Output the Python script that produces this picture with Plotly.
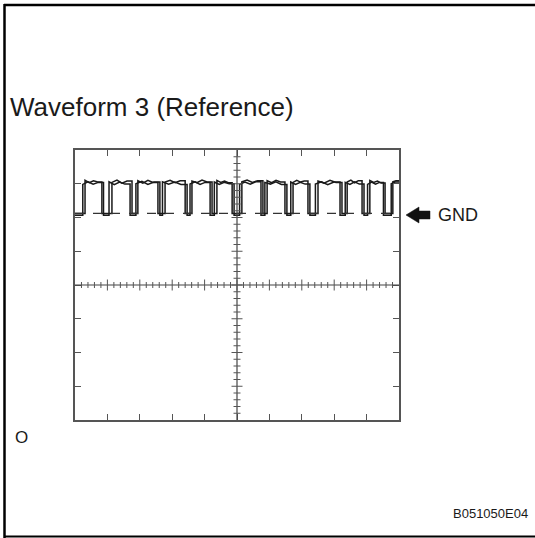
import plotly.graph_objects as go

W, H = 535, 538

# Screen grid: 10 x 8 divisions
x_divs = 10
y_divs = 8

# Pulse edges (divisions from the left edge of the screen), two overlaid sweeps
rise_a = [0.31, 1.14, 1.94, 2.78, 3.61, 4.38, 5.15, 5.93, 6.73, 7.50, 8.40, 9.10, 9.81]
fall_a = [0.83, 1.76, 2.56, 3.40, 4.23, 4.85, 5.80, 6.48, 7.19, 8.24, 8.86, 9.57, 10.0]
rise_b = [0.24, 1.05, 1.88, 2.70, 3.55, 4.30, 5.08, 5.86, 6.66, 7.42, 8.34, 9.03, 9.76]
fall_b = [0.88, 1.70, 2.62, 3.46, 4.17, 4.91, 5.74, 6.54, 7.25, 8.18, 8.92, 9.52, 10.0]

# Level readings on each high plateau (divisions from the bottom)
high_a = [
    [7.10, 7.03, 7.09, 7.05],
    [7.04, 7.11, 7.02, 7.08],
    [7.09, 7.02, 7.10, 7.04],
    [7.05, 7.10, 7.03, 7.09],
    [7.08, 7.03, 7.11, 7.05],
    [7.10, 7.04, 7.08, 7.03],
    [7.06, 7.11, 7.04, 7.09],
    [7.09, 7.03, 7.10, 7.05],
    [7.04, 7.10, 7.05, 7.08],
    [7.08, 7.02, 7.10, 7.04],
    [7.05, 7.11, 7.03, 7.09],
    [7.10, 7.04, 7.08, 7.02],
    [7.06, 7.09],
]
high_b = [
    [6.98, 7.06, 6.99, 7.04],
    [7.06, 6.97, 7.05, 6.99],
    [7.00, 7.07, 6.98, 7.05],
    [7.06, 6.99, 7.05, 6.98],
    [6.99, 7.06, 6.98, 7.04],
    [7.05, 6.98, 7.04, 7.00],
    [6.98, 7.05, 6.99, 7.06],
    [7.04, 6.99, 7.06, 6.98],
    [7.05, 6.98, 7.04, 6.99],
    [6.99, 7.06, 6.97, 7.05],
    [7.04, 6.98, 7.06, 6.99],
    [6.98, 7.05, 6.99, 7.04],
    [7.00, 7.05],
]
low_a = 6.12
low_b = 6.07
gnd_lvl = 6.12


def sweep(rise, fall, highs, low):
    """Polyline of one sweep built from its edges and plateau readings."""
    t, v = [0.0], [low]
    for r, f, lv in zip(rise, fall, highs):
        t += [r, r]
        v += [low, lv[0]]
        n = len(lv)
        for k in range(1, n):
            t.append(r + (f - r) * k / n)
            v.append(lv[k])
        t.append(f)
        v.append(lv[-1])
        if f < x_divs:
            t.append(f)
            v.append(low)
    return t, v


# Pixel geometry of the screen
X0, X1, Y0, Y1 = 75, 399, 150, 420
px_x = (X1 - X0) / x_divs
px_y = (Y1 - Y0) / y_divs


def px(xp):
    return xp / W


def py(yp):
    return 1 - yp / H


fig = go.Figure()

for rise, fall, highs, low in ((rise_b, fall_b, high_b, low_b), (rise_a, fall_a, high_a, low_a)):
    t, v = sweep(rise, fall, highs, low)
    fig.add_trace(go.Scatter(
        x=t, y=v, mode="lines",
        line=dict(color="#1a1a1a", width=1.5),
        hoverinfo="skip", showlegend=False,
    ))

shapes = []
# GND reference (dashed)
shapes.append(dict(type="line", xref="x", yref="y", x0=0, x1=x_divs, y0=gnd_lvl, y1=gnd_lvl,
                   line=dict(color="#333333", width=1.2, dash="dash")))
# Centre cross
cx, cy = x_divs / 2, y_divs / 2
shapes.append(dict(type="line", xref="x", yref="y", x0=0, x1=x_divs, y0=cy, y1=cy,
                   line=dict(color="#444444", width=1.2)))
shapes.append(dict(type="line", xref="x", yref="y", x0=cx, x1=cx, y0=0, y1=y_divs,
                   line=dict(color="#444444", width=1.2)))
# Sub-division ticks on the centre cross
for i in range(1, x_divs * 5):
    xv = i * 0.2
    half = (5.5 if i % 5 == 0 else 3.0) / px_y
    shapes.append(dict(type="line", xref="x", yref="y", x0=xv, x1=xv, y0=cy - half, y1=cy + half,
                       line=dict(color="#555555", width=1)))
for i in range(1, y_divs * 5):
    yv = i * 0.2
    half = (5.5 if i % 5 == 0 else 3.5) / px_x
    shapes.append(dict(type="line", xref="x", yref="y", x0=cx - half, x1=cx + half, y0=yv, y1=yv,
                       line=dict(color="#555555", width=1)))

# Outer frame of the sheet
frame = "#000000"
shapes.append(dict(type="line", xref="paper", yref="paper", x0=px(4), x1=px(535), y0=py(5), y1=py(5),
                   line=dict(color=frame, width=2.5)))
shapes.append(dict(type="line", xref="paper", yref="paper", x0=px(4.5), x1=px(4.5), y0=py(4), y1=py(538),
                   line=dict(color=frame, width=2.5)))
shapes.append(dict(type="line", xref="paper", yref="paper", x0=px(4), x1=px(535), y0=py(536.5), y1=py(536.5),
                   line=dict(color=frame, width=2)))

# GND arrow
ay = 215
arrow_path = (f"M {px(406)},{py(ay)} L {px(419)},{py(ay - 8)} L {px(419)},{py(ay - 4)} "
              f"L {px(430)},{py(ay - 4)} L {px(430)},{py(ay + 4)} L {px(419)},{py(ay + 4)} "
              f"L {px(419)},{py(ay + 8)} Z")
shapes.append(dict(type="path", xref="paper", yref="paper", path=arrow_path,
                   fillcolor="#111111", line=dict(color="#111111", width=0.5)))

font = "Liberation Sans, Arial, sans-serif"
annotations = [
    dict(text="Waveform 3 (Reference)", x=px(8), y=py(107), xref="paper", yref="paper",
         xanchor="left", yanchor="middle", showarrow=False,
         font=dict(family=font, size=26, color="#1a1a1a")),
    dict(text="GND", x=px(436), y=py(215), xref="paper", yref="paper",
         xanchor="left", yanchor="middle", showarrow=False,
         font=dict(family=font, size=18, color="#1a1a1a")),
    dict(text="O", x=px(13), y=py(437), xref="paper", yref="paper",
         xanchor="left", yanchor="middle", showarrow=False,
         font=dict(family=font, size=17, color="#1a1a1a")),
    dict(text="B051050E04", x=px(530), y=py(513), xref="paper", yref="paper",
         xanchor="right", yanchor="middle", showarrow=False,
         font=dict(family=font, size=13, color="#1a1a1a")),
]

axis_common = dict(showgrid=False, zeroline=False, showticklabels=False,
                   ticks="inside", ticklen=6, tickwidth=1, tickcolor="#555555",
                   showline=True, linecolor="#555555", linewidth=2, mirror="ticks",
                   dtick=1, tick0=0, fixedrange=True)

fig.update_layout(
    width=W, height=H,
    margin=dict(l=0, r=0, t=0, b=0),
    paper_bgcolor="white", plot_bgcolor="white",
    xaxis=dict(range=[0, x_divs], domain=[px(X0), px(X1)], **axis_common),
    yaxis=dict(range=[0, y_divs], domain=[py(Y1), py(Y0)], **axis_common),
    shapes=shapes,
    annotations=annotations,
    showlegend=False,
)

fig.write_html("out.html")
